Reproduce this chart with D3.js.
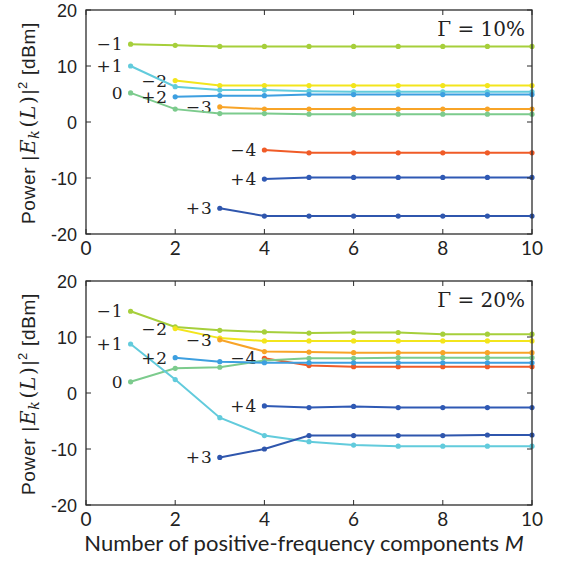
<!DOCTYPE html>
<html lang="en">
<head>
<meta charset="utf-8">
<title>Power vs M</title>
<script src="https://d3js.org/d3.v7.min.js"></script>
<style>
  body { margin: 0; background: #fff; }
  svg { display: block; }
</style>
</head>
<body>
<script>
// number of positive-frequency components
var M = [1, 2, 3, 4, 5, 6, 7, 8, 9, 10];

// order labels (k) and colours
var orders = ["\u22121", "\u22122", "\u22123", "\u22124", "0", "+1", "+2", "+3", "+4"];
var colors = ["#a6cf3b", "#f3e51c", "#f8a427", "#f05b27", "#7ccb8d", "#62cbdc", "#3d9fe0", "#2f56ad", "#2f59b4"];

// Gamma = 10 %
var g10_m1 = [13.9, 13.7, 13.5, 13.5, 13.5, 13.5, 13.5, 13.5, 13.5, 13.5];
var g10_m2 = [null, 7.4, 6.5, 6.5, 6.5, 6.5, 6.5, 6.5, 6.5, 6.5];
var g10_m3 = [null, null, 2.7, 2.3, 2.3, 2.3, 2.3, 2.3, 2.3, 2.3];
var g10_m4 = [null, null, null, -5.0, -5.5, -5.5, -5.5, -5.5, -5.5, -5.5];
var g10_z0 = [5.2, 2.3, 1.5, 1.5, 1.4, 1.4, 1.4, 1.4, 1.4, 1.4];
var g10_p1 = [10.0, 6.3, 5.7, 5.7, 5.5, 5.4, 5.4, 5.4, 5.4, 5.4];
var g10_p2 = [null, 4.5, 4.7, 4.7, 4.9, 4.9, 4.9, 4.9, 4.9, 4.9];
var g10_p3 = [null, null, -15.4, -16.8, -16.8, -16.8, -16.8, -16.8, -16.8, -16.8];
var g10_p4 = [null, null, null, -10.2, -9.9, -9.9, -9.9, -9.9, -9.9, -9.9];

// Gamma = 20 %
var g20_m1 = [14.6, 11.8, 11.2, 10.9, 10.7, 10.8, 10.8, 10.5, 10.5, 10.5];
var g20_m2 = [null, 11.5, 9.8, 9.3, 9.3, 9.3, 9.3, 9.3, 9.3, 9.3];
var g20_m3 = [null, null, 9.5, 7.4, 7.3, 7.2, 7.2, 7.2, 7.2, 7.2];
var g20_m4 = [null, null, null, 6.2, 4.9, 4.7, 4.7, 4.7, 4.7, 4.7];
var g20_z0 = [2.0, 4.4, 4.6, 5.8, 6.2, 6.2, 6.3, 6.3, 6.3, 6.3];
var g20_p1 = [8.75, 2.4, -4.4, -7.6, -8.7, -9.3, -9.5, -9.5, -9.5, -9.5];
var g20_p2 = [null, 6.3, 5.6, 5.4, 5.4, 5.4, 5.4, 5.4, 5.4, 5.4];
var g20_p3 = [null, null, -11.5, -10.0, -7.6, -7.6, -7.6, -7.6, -7.5, -7.5];
var g20_p4 = [null, null, null, -2.3, -2.6, -2.4, -2.6, -2.6, -2.6, -2.6];

var xTicks = [0, 2, 4, 6, 8, 10];
var yTicks = [-20, -10, 0, 10, 20];

var panels = [
    {title: "\u0393 = 10%", top: 10, series: [g10_m1, g10_m2, g10_m3, g10_m4, g10_z0, g10_p1, g10_p2, g10_p3, g10_p4]},
    {title: "\u0393 = 20%", top: 281, series: [g20_m1, g20_m2, g20_m3, g20_m4, g20_z0, g20_p1, g20_p2, g20_p3, g20_p4]}
];

var width = 562, height = 570;
var left = 86, right = 532, ph = 224;
var axisColor = "#2b2b2b";

var svg = d3.select("body").append("svg")
    .attr("width", width)
    .attr("height", height);

var x = d3.scaleLinear().domain([0, 10]).range([left, right]);

panels.forEach(function (p) {
    var y = d3.scaleLinear().domain([-20, 20]).range([p.top + ph, p.top]);
    var g = svg.append("g");

    // lines + markers
    p.series.forEach(function (s, i) {
        var pts = M.map(function (m, j) { return {m: m, v: s[j]}; })
            .filter(function (d) { return d.v !== null; });
        var line = d3.line().x(d => x(d.m)).y(d => y(d.v));
        g.append("path")
            .attr("d", line(pts))
            .attr("fill", "none")
            .attr("stroke", colors[i])
            .attr("stroke-width", 2);
        g.selectAll(null)
            .data(pts)
            .join("circle")
            .attr("cx", d => x(d.m))
            .attr("cy", d => y(d.v))
            .attr("r", 2.6)
            .attr("fill", colors[i]);
        // order label left of the first point
        g.append("text")
            .attr("x", x(pts[0].m) - 7)
            .attr("y", y(pts[0].v) + 6)
            .attr("text-anchor", "end")
            .attr("font-family", "DejaVu Serif")
            .attr("font-size", 17)
            .attr("letter-spacing", 1)
            .attr("fill", "#222")
            .text(orders[i]);
    });

    // frame
    g.append("rect")
        .attr("x", left).attr("y", p.top)
        .attr("width", right - left).attr("height", ph)
        .attr("fill", "none")
        .attr("stroke", axisColor)
        .attr("stroke-width", 1.3);

    // inward ticks on all four sides
    xTicks.forEach(function (t) {
        g.append("line").attr("x1", x(t)).attr("x2", x(t))
            .attr("y1", p.top + ph).attr("y2", p.top + ph - 5)
            .attr("stroke", axisColor);
        g.append("line").attr("x1", x(t)).attr("x2", x(t))
            .attr("y1", p.top).attr("y2", p.top + 5)
            .attr("stroke", axisColor);
        g.append("text")
            .attr("x", x(t))
            .attr("y", p.top + ph + 21)
            .attr("text-anchor", "middle")
            .attr("font-family", "Lato")
            .attr("font-size", 19)
            .attr("fill", "#222")
            .text(t);
    });
    yTicks.forEach(function (t) {
        g.append("line").attr("x1", left).attr("x2", left + 5)
            .attr("y1", y(t)).attr("y2", y(t))
            .attr("stroke", axisColor);
        g.append("line").attr("x1", right).attr("x2", right - 5)
            .attr("y1", y(t)).attr("y2", y(t))
            .attr("stroke", axisColor);
        g.append("text")
            .attr("x", left - 9)
            .attr("y", y(t) + 6.5)
            .attr("text-anchor", "end")
            .attr("font-family", "Liberation Sans")
            .attr("font-size", 18)
            .attr("fill", "#222")
            .text(t);
    });

    // Gamma annotation
    g.append("text")
        .attr("x", 525)
        .attr("y", p.top + 26)
        .attr("text-anchor", "end")
        .attr("font-family", "DejaVu Serif")
        .attr("font-size", 20)
        .attr("fill", "#222")
        .text(p.title);

    // y label, rotated, centred on the panel
    var yl = g.append("text")
        .attr("transform", "translate(35," + (p.top + ph / 2 + 1) + ") rotate(-90)")
        .attr("text-anchor", "middle")
        .attr("font-family", "Liberation Sans")
        .attr("font-size", 19)
        .attr("letter-spacing", 0.7)
        .attr("fill", "#222");
    var ser = "DejaVu Serif";
    yl.append("tspan").text("Power |");
    yl.append("tspan").attr("dx", 1).attr("font-family", ser).attr("font-style", "italic").attr("font-size", 20).text("E");
    yl.append("tspan").attr("dy", 4).attr("font-family", ser).attr("font-style", "italic").attr("font-size", 14).text("k");
    yl.append("tspan").attr("dy", -4).attr("dx", 2).attr("font-family", ser).attr("font-size", 20).text("(");
    yl.append("tspan").attr("font-family", ser).attr("font-style", "italic").attr("font-size", 20).text("L");
    yl.append("tspan").attr("dx", 1).attr("font-family", ser).attr("font-size", 20).text(")");
    yl.append("tspan").attr("dx", 1).text("|");
    yl.append("tspan").attr("dy", -8).attr("font-size", 13).text("2");
    yl.append("tspan").attr("dy", 8).text(" [dBm]");
});

// x axis title
var xt = svg.append("text")
    .attr("x", 304)
    .attr("y", 551)
    .attr("text-anchor", "middle")
    .attr("font-family", "Lato")
    .attr("font-size", 22)
    .attr("fill", "#222");
xt.append("tspan").text("Number of positive-frequency components ");
xt.append("tspan").attr("font-style", "italic").text("M");
</script>
</body>
</html>
